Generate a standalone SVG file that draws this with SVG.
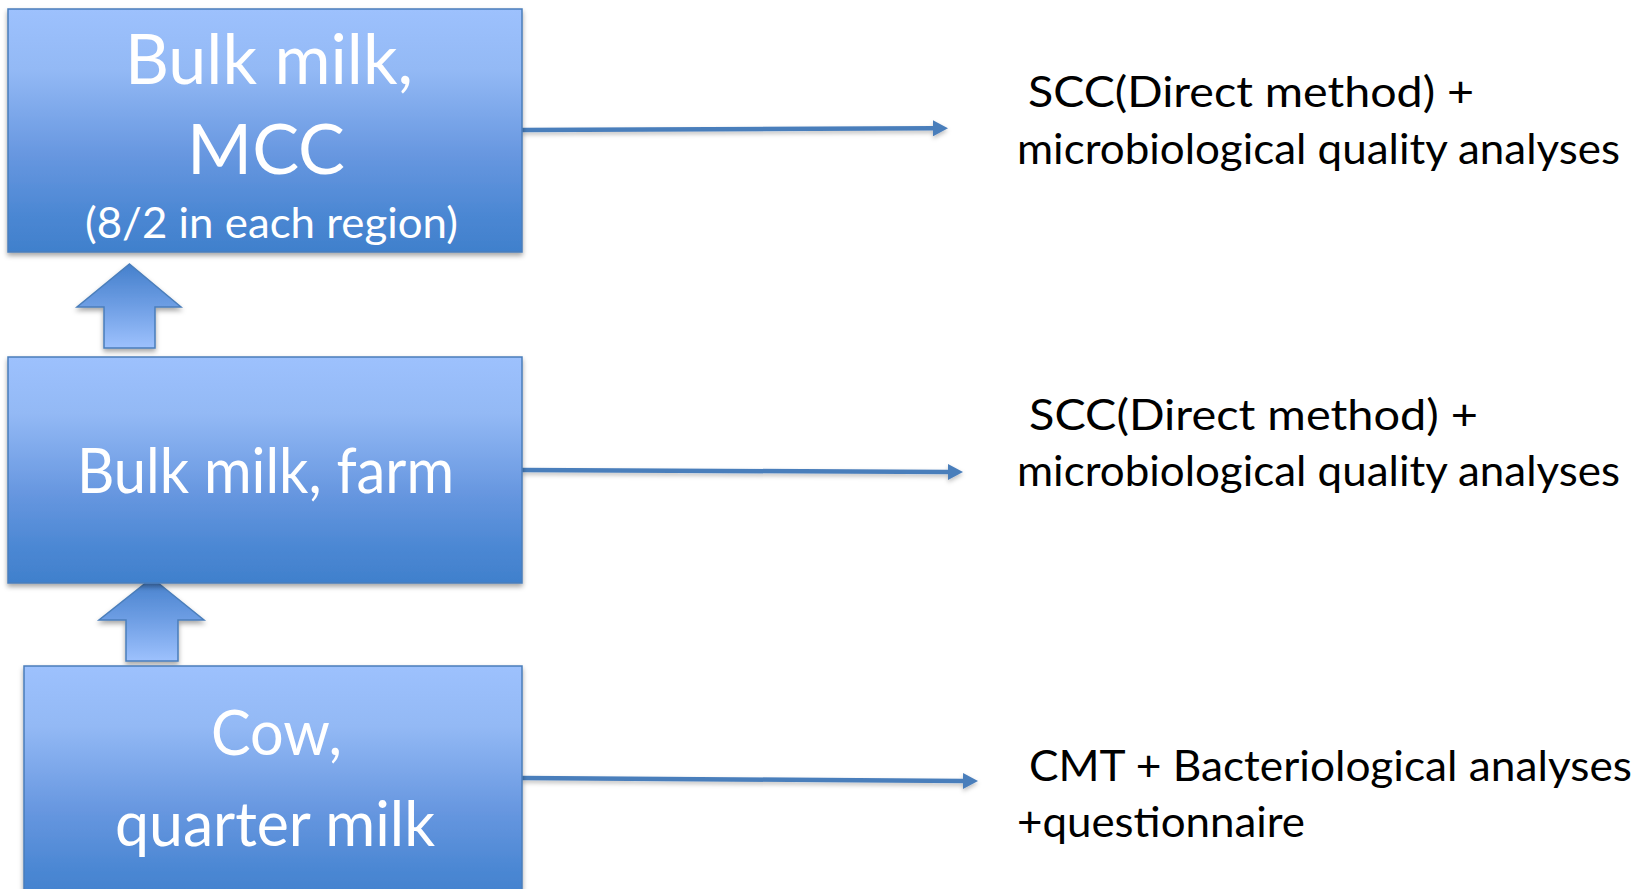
<svg xmlns="http://www.w3.org/2000/svg" width="1647" height="889" viewBox="0 0 1647 889">
  <style>
    .box { stroke: #4a7ebb; stroke-width: 1.5; fill: url(#boxGrad); filter: url(#shadow); }
    .up { stroke: #4a7ebb; stroke-width: 1.5; fill: url(#upGrad); filter: url(#shadow); }
    .wt { font-family: Lato, "Open Sans", "Liberation Sans", sans-serif; fill: #ffffff; text-anchor: middle; }
    .bt { font-family: Lato, "Open Sans", "Liberation Sans", sans-serif; fill: #000000; font-size: 43px; }
    .conn { stroke: #4a7ebb; stroke-width: 4.5; fill: none; marker-end: url(#head); filter: url(#lshadow); }
  </style>
  <defs>
    <linearGradient id="boxGrad" x1="0" y1="0" x2="0" y2="1">
      <stop offset="0" stop-color="#9dc1fd"/>
      <stop offset="0.25" stop-color="#93b9f5"/>
      <stop offset="0.6" stop-color="#6797e0"/>
      <stop offset="0.85" stop-color="#4b87d3"/>
      <stop offset="1" stop-color="#4080cc"/>
    </linearGradient>
    <linearGradient id="upGrad" x1="0" y1="0" x2="0" y2="1">
      <stop offset="0" stop-color="#4580cc"/>
      <stop offset="0.5" stop-color="#6e9ee4"/>
      <stop offset="1" stop-color="#9dc1fd"/>
    </linearGradient>
    <filter id="shadow" x="-10%" y="-10%" width="120%" height="130%">
      <feDropShadow dx="0" dy="3" stdDeviation="2.5" flood-color="#000" flood-opacity="0.35"/>
    </filter>
    <filter id="lshadow" filterUnits="userSpaceOnUse" x="0" y="0" width="1647" height="889">
      <feDropShadow dx="0" dy="2.5" stdDeviation="2" flood-color="#000" flood-opacity="0.25"/>
    </filter>
    <marker id="head" markerUnits="userSpaceOnUse" viewBox="0 0 15 16" refX="0" refY="8" markerWidth="15" markerHeight="16" orient="auto">
      <path d="M0,0 L15,8 L0,16 z" fill="#4a7ebb"/>
    </marker>
  </defs>

  <g id="connectors">
    <path class="conn" d="M522,130 L933,128.3"/>
    <path class="conn" d="M522,470 L948,472"/>
    <path class="conn" d="M522,778 L963,781"/>
  </g>

  <g id="up-arrow-1">
    <polygon class="up" points="129.5,264 181,307 155,307 155,348 104,348 104,307 77,307"/>
  </g>
  <g id="up-arrow-2">
    <polygon class="up" points="152,578 204,620 178,620 178,661 126,661 126,620 99,620"/>
  </g>

  <g id="node-mcc">
    <rect class="box" x="8" y="9" width="514" height="243"/>
    <text class="wt" x="269" y="84" font-size="70" textLength="288" lengthAdjust="spacingAndGlyphs">Bulk milk,</text>
    <text class="wt" x="266" y="174" font-size="70" textLength="158" lengthAdjust="spacingAndGlyphs">MCC</text>
    <text class="wt" x="271.5" y="238" font-size="42" textLength="373" lengthAdjust="spacingAndGlyphs">(8/2 in each region)</text>
  </g>

  <g id="node-farm">
    <rect class="box" x="8" y="357" width="514" height="226"/>
    <text class="wt" x="265.5" y="493" font-size="61" textLength="377" lengthAdjust="spacingAndGlyphs">Bulk milk, farm</text>
  </g>

  <g id="node-cow">
    <rect class="box" x="24" y="666" width="498" height="240"/>
    <text class="wt" x="276.5" y="755" font-size="61" textLength="131" lengthAdjust="spacingAndGlyphs">Cow,</text>
    <text class="wt" x="275" y="846" font-size="61" textLength="320" lengthAdjust="spacingAndGlyphs">quarter milk</text>
  </g>

  <g id="label-mcc">
    <text class="bt" x="1028" y="107" textLength="446" lengthAdjust="spacingAndGlyphs">SCC(Direct method) +</text>
    <text class="bt" x="1017" y="164" textLength="603" lengthAdjust="spacingAndGlyphs">microbiological quality analyses</text>
  </g>
  <g id="label-farm">
    <text class="bt" x="1029" y="430" textLength="449" lengthAdjust="spacingAndGlyphs">SCC(Direct method) +</text>
    <text class="bt" x="1017" y="486" textLength="603" lengthAdjust="spacingAndGlyphs">microbiological quality analyses</text>
  </g>
  <g id="label-cow">
    <text class="bt" x="1029" y="781" textLength="603" lengthAdjust="spacingAndGlyphs">CMT + Bacteriological analyses</text>
    <text class="bt" x="1017" y="837" textLength="288" lengthAdjust="spacingAndGlyphs">+questionnaire</text>
  </g>
</svg>
